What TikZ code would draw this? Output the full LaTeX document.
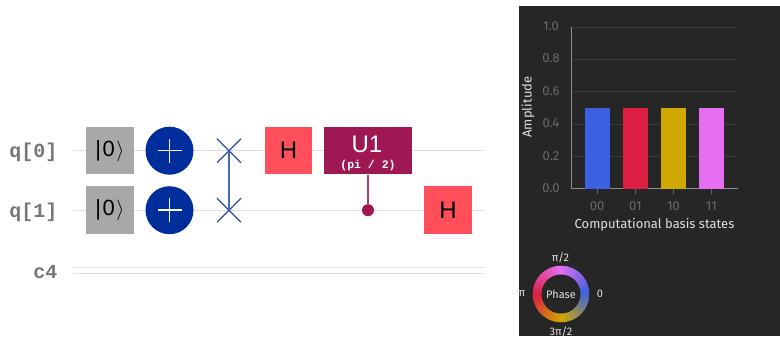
\documentclass[tikz,border=0pt]{standalone}
\usepackage{fontspec}
\setmainfont{Liberation Sans}
\setmonofont{Liberation Mono}
\newfontfamily\plotfont{Fira Sans}
\usetikzlibrary{shapes.misc}
\definecolor{wirec}{HTML}{E0E0E0}
\definecolor{qlabel}{HTML}{777777}
\definecolor{initc}{HTML}{A8A8A8}
\definecolor{xblue}{HTML}{002D9C}
\definecolor{swapc}{HTML}{2A4EA8}
\definecolor{hred}{HTML}{FF4F5B}
\definecolor{uwine}{HTML}{9F1853}
\definecolor{panelc}{HTML}{262626}
\definecolor{gridc}{HTML}{393939}
\definecolor{axisc}{HTML}{8D8D8D}
\definecolor{barblue}{HTML}{3C61E0}
\definecolor{barred}{HTML}{DC1F42}
\definecolor{baryellow}{HTML}{D0A800}
\definecolor{barpink}{HTML}{E56FF0}
\tikzset{
    wire/.style = {draw=wirec,line width=1pt},
    qname/.style = {anchor=east,text=qlabel,font=\ttfamily\bfseries\fontsize{20}{20}\selectfont},
    initbox/.style = {rectangle,fill=initc,minimum size=47.5pt,inner sep=0pt,font=\fontsize{22}{22}\selectfont},
    xgate/.style = {circle,fill=xblue,minimum size=48pt,inner sep=0pt,path picture={
        \draw[white,line width=1.5pt] (path picture bounding box.center) ++(-12,0) -- ++(24,0);
        \draw[white,line width=1.5pt] (path picture bounding box.center) ++(0,-12) -- ++(0,24);}},
    swapx/.style = {cross out,draw=swapc,line width=1.3pt,minimum size=24pt,inner sep=0pt,outer sep=0pt},
    swapedge/.style = {draw=swapc!85!white,line width=1.3pt},
    hgate/.style = {rectangle,fill=hred,minimum size=47.5pt,inner sep=0pt,font=\fontsize{24}{24}\selectfont},
    ugate/.style = {rectangle,fill=uwine,minimum width=88pt,minimum height=47.5pt,inner sep=0pt},
    ctrl/.style = {circle,fill=uwine,minimum size=12pt,inner sep=0pt},
    ctrledge/.style = {draw=uwine!85!white,line width=1.2pt},
    bar/.style = {rectangle,minimum width=24.4pt,minimum height=81pt,inner sep=0pt},
    ticktext/.style = {text=axisc!75!black,font=\plotfont\fontsize{13}{13}\selectfont},
    axistext/.style = {text=wirec,font=\plotfont\fontsize{13}{13}\selectfont},
    phasetext/.style = {text=wirec,font=\plotfont\fontsize{11}{11}\selectfont},
}

\begin{document}
\begin{tikzpicture}[x=1pt,y=-1pt]
\useasboundingbox (0,0) rectangle (780,338);
%
\coordinate (q0l) at (73,150.7);
\coordinate (q0r) at (484,150.7);
\coordinate (q1l) at (73,210.2);
\coordinate (q1r) at (484,210.2);
\coordinate (c4al) at (73,267);
\coordinate (c4ar) at (484,267);
\coordinate (c4bl) at (73,273);
\coordinate (c4br) at (484,273);
\draw[wire] (q0l) -- (q0r);
\draw[wire] (q1l) -- (q1r);
\draw[wire] (c4al) -- (c4ar);
\draw[wire] (c4bl) -- (c4br);
%
\node[qname] at (61,152.5) (q0) {q[0]};
\node[qname] at (61,212.5) (q1) {q[1]};
\node[qname] at (61,272) (c4) {c4};
%
\node[initbox] at (110,150.7) (init0) {|\kern1.5pt 0\kern1.5pt$\rangle$};
\node[initbox] at (110,210.2) (init1) {|\kern1.5pt 0\kern1.5pt$\rangle$};
\node[xgate] at (169.5,150.7) (x0) {};
\node[xgate] at (169.5,210.2) (x1) {};
\node[swapx] at (229,150.7) (sw0) {};
\node[swapx] at (229,210.2) (sw1) {};
\draw[swapedge] (sw0.center) -- (sw1.center);
\node[hgate] at (288.5,150.7) (h0) {H};
\node[ctrl] at (368,210.2) (dot) {};
\node[ugate] at (368,150.7) (u1) {};
\node[text=white,font=\fontsize{24}{24}\selectfont] at (367,144.5) (u1name) {U1};
\node[text=white,font=\ttfamily\bfseries\fontsize{11.5}{11.5}\selectfont] at (368,166) (u1arg) {(pi / 2)};
\draw[ctrledge] (u1) -- (dot);
\node[hgate] at (448,210.2) (h1) {H};
%
\fill[panelc] (519,6) rectangle (780,336);
\foreach \gy in {27,59.3,91.6,124,156.3} {
    \draw[gridc,line width=0.8pt] (571,\gy) -- (738,\gy);
}
\draw[axisc,line width=1pt] (571,27) -- (571,188.7) -- (738,188.7);
\foreach \tx in {597,635,673.5,711.5} {
    \draw[axisc!70!black,line width=0.8pt] (\tx,188.7) -- (\tx,194);
}
%
\node[bar,fill=barblue] at (597.3,148.2) (b00) {};
\node[bar,fill=barred] at (635.5,148.2) (b01) {};
\node[bar,fill=baryellow] at (673.5,148.2) (b10) {};
\node[bar,fill=barpink] at (711.5,148.2) (b11) {};
%
\node[ticktext] at (551,26) (y10) {1.0};
\node[ticktext] at (551,58.5) (y08) {0.8};
\node[ticktext] at (551,91) (y06) {0.6};
\node[ticktext] at (551,123.5) (y04) {0.4};
\node[ticktext] at (551,156) (y02) {0.2};
\node[ticktext] at (551,188) (y00) {0.0};
\node[ticktext] at (597,206) (x00) {00};
\node[ticktext] at (635.5,206) (x01) {01};
\node[ticktext] at (673.5,206) (x10) {10};
\node[ticktext] at (711.5,206) (x11) {11};
\node[axistext] at (654.5,225) (xname) {Computational basis states};
\node[axistext,rotate=90] at (528,107) (yname) {Amplitude};
%
\begin{scope}[shift={(561,294)},x=1pt,y=1pt]
\foreach \ca/\cb/\st in {barblue/barpink/0,barpink/barred/90,barred/baryellow/180,baryellow/barblue/270} {
    \foreach \k in {0,...,17} {
        \pgfmathsetmacro\p{\k/18*100}
        \pgfmathsetmacro\a{\st+5*\k}
        \draw[color=\cb!\p!\ca,line width=8.5pt] (\a:24) arc[start angle=\a,delta angle=8,radius=24];
    }
}
\end{scope}
\node[phasetext] at (561,294) (phase) {Phase};
\node[phasetext] at (560.5,257.5) (ph90) {π/2};
\node[phasetext] at (600,294) (ph0) {0};
\node[phasetext] at (522,294) (ph180) {π};
\node[phasetext] at (561,331.5) (ph270) {3π/2};
\end{tikzpicture}
\end{document}
